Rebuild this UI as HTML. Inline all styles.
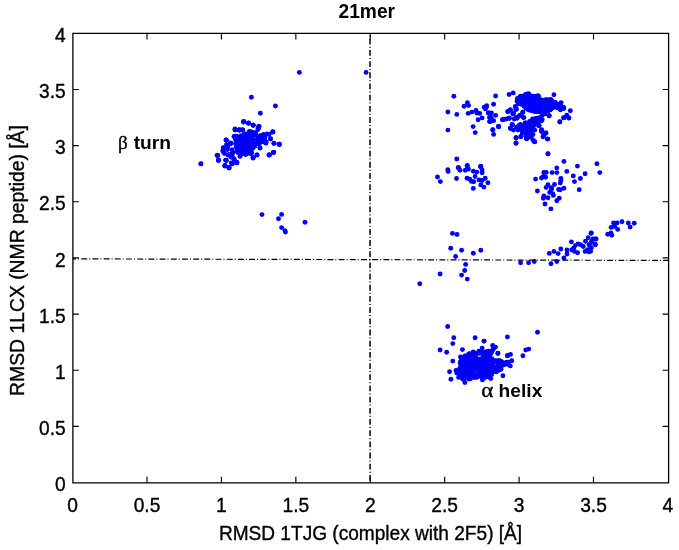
<!DOCTYPE html><html><head><meta charset="utf-8"><title>21mer</title><style>
html,body{margin:0;padding:0;background:#fff;width:679px;height:550px;overflow:hidden}
svg{display:block;filter:blur(0.35px)}
text{font-family:"Liberation Sans",Arial,sans-serif;font-size:19px;fill:#000;stroke:#000;stroke-width:0.35px}
.b{font-weight:bold;stroke-width:0}
.g{font-family:"Liberation Serif","DejaVu Serif",serif;font-weight:normal}
</style></head><body>
<svg width="679" height="550" viewBox="0 0 679 550">
<rect width="679" height="550" fill="#fff"/>
<g fill="#0000fc">
<circle cx="239.0" cy="151.0" r="2.45"/>
<circle cx="258.2" cy="136.8" r="2.45"/>
<circle cx="250.0" cy="141.5" r="2.45"/>
<circle cx="260.4" cy="141.1" r="2.45"/>
<circle cx="248.5" cy="148.0" r="2.45"/>
<circle cx="241.9" cy="153.4" r="2.45"/>
<circle cx="235.6" cy="143.7" r="2.45"/>
<circle cx="263.6" cy="139.9" r="2.45"/>
<circle cx="241.5" cy="140.8" r="2.45"/>
<circle cx="248.3" cy="142.6" r="2.45"/>
<circle cx="242.0" cy="136.3" r="2.45"/>
<circle cx="241.6" cy="141.7" r="2.45"/>
<circle cx="254.5" cy="135.2" r="2.45"/>
<circle cx="238.6" cy="138.7" r="2.45"/>
<circle cx="263.5" cy="140.8" r="2.45"/>
<circle cx="244.1" cy="144.8" r="2.45"/>
<circle cx="250.3" cy="144.8" r="2.45"/>
<circle cx="235.9" cy="136.5" r="2.45"/>
<circle cx="259.3" cy="140.7" r="2.45"/>
<circle cx="240.2" cy="143.9" r="2.45"/>
<circle cx="246.3" cy="141.2" r="2.45"/>
<circle cx="250.4" cy="149.4" r="2.45"/>
<circle cx="250.8" cy="140.1" r="2.45"/>
<circle cx="249.9" cy="131.4" r="2.45"/>
<circle cx="236.2" cy="147.6" r="2.45"/>
<circle cx="246.9" cy="134.8" r="2.45"/>
<circle cx="258.5" cy="143.7" r="2.45"/>
<circle cx="261.2" cy="136.3" r="2.45"/>
<circle cx="250.6" cy="153.6" r="2.45"/>
<circle cx="252.6" cy="141.7" r="2.45"/>
<circle cx="243.1" cy="143.9" r="2.45"/>
<circle cx="252.0" cy="140.9" r="2.45"/>
<circle cx="252.3" cy="135.5" r="2.45"/>
<circle cx="250.3" cy="142.3" r="2.45"/>
<circle cx="245.8" cy="139.0" r="2.45"/>
<circle cx="251.3" cy="145.7" r="2.45"/>
<circle cx="253.6" cy="141.7" r="2.45"/>
<circle cx="235.7" cy="136.2" r="2.45"/>
<circle cx="240.3" cy="144.7" r="2.45"/>
<circle cx="242.7" cy="150.9" r="2.45"/>
<circle cx="255.5" cy="132.7" r="2.45"/>
<circle cx="258.0" cy="136.7" r="2.45"/>
<circle cx="238.2" cy="145.7" r="2.45"/>
<circle cx="239.7" cy="143.4" r="2.45"/>
<circle cx="240.0" cy="137.3" r="2.45"/>
<circle cx="256.6" cy="141.6" r="2.45"/>
<circle cx="244.7" cy="142.1" r="2.45"/>
<circle cx="235.6" cy="140.0" r="2.45"/>
<circle cx="247.7" cy="135.2" r="2.45"/>
<circle cx="238.2" cy="152.3" r="2.45"/>
<circle cx="250.5" cy="135.7" r="2.45"/>
<circle cx="239.3" cy="148.0" r="2.45"/>
<circle cx="239.8" cy="147.6" r="2.45"/>
<circle cx="255.6" cy="143.8" r="2.45"/>
<circle cx="241.6" cy="154.1" r="2.45"/>
<circle cx="259.3" cy="143.1" r="2.45"/>
<circle cx="241.7" cy="146.3" r="2.45"/>
<circle cx="247.0" cy="144.5" r="2.45"/>
<circle cx="244.7" cy="145.8" r="2.45"/>
<circle cx="236.7" cy="137.9" r="2.45"/>
<circle cx="244.2" cy="151.3" r="2.45"/>
<circle cx="244.4" cy="153.2" r="2.45"/>
<circle cx="257.6" cy="140.7" r="2.45"/>
<circle cx="252.3" cy="134.8" r="2.45"/>
<circle cx="256.4" cy="142.9" r="2.45"/>
<circle cx="246.4" cy="139.0" r="2.45"/>
<circle cx="241.2" cy="146.9" r="2.45"/>
<circle cx="248.1" cy="135.4" r="2.45"/>
<circle cx="238.1" cy="146.7" r="2.45"/>
<circle cx="243.9" cy="142.7" r="2.45"/>
<circle cx="244.8" cy="151.6" r="2.45"/>
<circle cx="241.0" cy="138.6" r="2.45"/>
<circle cx="245.2" cy="135.8" r="2.45"/>
<circle cx="263.4" cy="139.0" r="2.45"/>
<circle cx="242.0" cy="148.1" r="2.45"/>
<circle cx="262.8" cy="135.8" r="2.45"/>
<circle cx="260.6" cy="139.5" r="2.45"/>
<circle cx="245.3" cy="137.7" r="2.45"/>
<circle cx="239.0" cy="143.9" r="2.45"/>
<circle cx="237.1" cy="151.5" r="2.45"/>
<circle cx="245.3" cy="145.5" r="2.45"/>
<circle cx="258.8" cy="139.8" r="2.45"/>
<circle cx="252.3" cy="136.1" r="2.45"/>
<circle cx="237.4" cy="137.1" r="2.45"/>
<circle cx="263.2" cy="141.7" r="2.45"/>
<circle cx="243.3" cy="149.6" r="2.45"/>
<circle cx="255.4" cy="132.9" r="2.45"/>
<circle cx="238.4" cy="151.9" r="2.45"/>
<circle cx="236.1" cy="136.5" r="2.45"/>
<circle cx="242.3" cy="148.6" r="2.45"/>
<circle cx="238.0" cy="152.6" r="2.45"/>
<circle cx="246.4" cy="154.0" r="2.45"/>
<circle cx="262.7" cy="137.8" r="2.45"/>
<circle cx="242.6" cy="142.2" r="2.45"/>
<circle cx="237.9" cy="146.4" r="2.45"/>
<circle cx="264.9" cy="137.8" r="2.45"/>
<circle cx="253.1" cy="141.5" r="2.45"/>
<circle cx="241.4" cy="145.5" r="2.45"/>
<circle cx="242.8" cy="143.7" r="2.45"/>
<circle cx="244.3" cy="136.6" r="2.45"/>
<circle cx="237.4" cy="137.5" r="2.45"/>
<circle cx="254.8" cy="146.1" r="2.45"/>
<circle cx="263.7" cy="140.1" r="2.45"/>
<circle cx="244.3" cy="138.6" r="2.45"/>
<circle cx="244.6" cy="151.0" r="2.45"/>
<circle cx="262.2" cy="138.0" r="2.45"/>
<circle cx="245.1" cy="143.8" r="2.45"/>
<circle cx="252.6" cy="145.0" r="2.45"/>
<circle cx="251.7" cy="132.4" r="2.45"/>
<circle cx="237.2" cy="146.0" r="2.45"/>
<circle cx="243.8" cy="149.7" r="2.45"/>
<circle cx="250.0" cy="151.4" r="2.45"/>
<circle cx="239.6" cy="142.7" r="2.45"/>
<circle cx="260.0" cy="138.4" r="2.45"/>
<circle cx="238.1" cy="143.1" r="2.45"/>
<circle cx="263.0" cy="137.8" r="2.45"/>
<circle cx="244.5" cy="152.4" r="2.45"/>
<circle cx="256.0" cy="135.0" r="2.45"/>
<circle cx="248.1" cy="134.5" r="2.45"/>
<circle cx="251.7" cy="143.7" r="2.45"/>
<circle cx="260.9" cy="141.6" r="2.45"/>
<circle cx="247.0" cy="138.8" r="2.45"/>
<circle cx="254.7" cy="140.7" r="2.45"/>
<circle cx="252.3" cy="132.2" r="2.45"/>
<circle cx="245.7" cy="134.0" r="2.45"/>
<circle cx="238.7" cy="136.9" r="2.45"/>
<circle cx="260.2" cy="140.3" r="2.45"/>
<circle cx="247.1" cy="145.4" r="2.45"/>
<circle cx="251.0" cy="142.7" r="2.45"/>
<circle cx="254.7" cy="141.2" r="2.45"/>
<circle cx="242.2" cy="142.6" r="2.45"/>
<circle cx="249.5" cy="136.1" r="2.45"/>
<circle cx="247.5" cy="144.2" r="2.45"/>
<circle cx="243.3" cy="146.2" r="2.45"/>
<circle cx="250.5" cy="151.8" r="2.45"/>
<circle cx="239.7" cy="149.1" r="2.45"/>
<circle cx="261.9" cy="138.2" r="2.45"/>
<circle cx="246.2" cy="147.5" r="2.45"/>
<circle cx="240.3" cy="136.7" r="2.45"/>
<circle cx="241.5" cy="144.4" r="2.45"/>
<circle cx="245.5" cy="143.1" r="2.45"/>
<circle cx="239.9" cy="148.2" r="2.45"/>
<circle cx="243.1" cy="152.6" r="2.45"/>
<circle cx="248.5" cy="152.9" r="2.45"/>
<circle cx="264.6" cy="139.9" r="2.45"/>
<circle cx="259.4" cy="141.1" r="2.45"/>
<circle cx="239.9" cy="138.5" r="2.45"/>
<circle cx="238.7" cy="152.5" r="2.45"/>
<circle cx="253.3" cy="140.5" r="2.45"/>
<circle cx="238.5" cy="137.8" r="2.45"/>
<circle cx="242.5" cy="148.7" r="2.45"/>
<circle cx="254.1" cy="145.2" r="2.45"/>
<circle cx="260.4" cy="135.7" r="2.45"/>
<circle cx="243.6" cy="143.7" r="2.45"/>
<circle cx="243.2" cy="144.8" r="2.45"/>
<circle cx="242.5" cy="147.1" r="2.45"/>
<circle cx="249.9" cy="151.2" r="2.45"/>
<circle cx="246.6" cy="137.5" r="2.45"/>
<circle cx="238.2" cy="150.1" r="2.45"/>
<circle cx="238.5" cy="148.6" r="2.45"/>
<circle cx="239.0" cy="142.7" r="2.45"/>
<circle cx="252.4" cy="138.2" r="2.45"/>
<circle cx="250.3" cy="139.3" r="2.45"/>
<circle cx="248.4" cy="141.5" r="2.45"/>
<circle cx="244.2" cy="140.3" r="2.45"/>
<circle cx="249.9" cy="146.3" r="2.45"/>
<circle cx="246.4" cy="135.6" r="2.45"/>
<circle cx="235.0" cy="137.4" r="2.45"/>
<circle cx="260.4" cy="140.5" r="2.45"/>
<circle cx="244.2" cy="134.8" r="2.45"/>
<circle cx="253.8" cy="143.5" r="2.45"/>
<circle cx="246.8" cy="140.9" r="2.45"/>
<circle cx="247.3" cy="151.4" r="2.45"/>
<circle cx="252.8" cy="148.3" r="2.45"/>
<circle cx="249.9" cy="148.6" r="2.45"/>
<circle cx="254.5" cy="146.3" r="2.45"/>
<circle cx="254.1" cy="140.5" r="2.45"/>
<circle cx="254.1" cy="145.9" r="2.45"/>
<circle cx="245.6" cy="137.1" r="2.45"/>
<circle cx="251.5" cy="134.4" r="2.45"/>
<circle cx="260.4" cy="142.3" r="2.45"/>
<circle cx="249.2" cy="131.8" r="2.45"/>
<circle cx="250.5" cy="148.6" r="2.45"/>
<circle cx="247.8" cy="139.2" r="2.45"/>
<circle cx="250.4" cy="153.4" r="2.45"/>
<circle cx="256.0" cy="140.4" r="2.45"/>
<circle cx="241.3" cy="135.7" r="2.45"/>
<circle cx="262.0" cy="137.2" r="2.45"/>
<circle cx="541.2" cy="100.7" r="2.45"/>
<circle cx="540.6" cy="107.8" r="2.45"/>
<circle cx="524.3" cy="106.2" r="2.45"/>
<circle cx="550.3" cy="109.3" r="2.45"/>
<circle cx="529.1" cy="105.3" r="2.45"/>
<circle cx="527.3" cy="104.4" r="2.45"/>
<circle cx="549.9" cy="109.9" r="2.45"/>
<circle cx="545.9" cy="99.7" r="2.45"/>
<circle cx="536.8" cy="108.3" r="2.45"/>
<circle cx="559.8" cy="107.6" r="2.45"/>
<circle cx="533.5" cy="108.1" r="2.45"/>
<circle cx="527.7" cy="107.4" r="2.45"/>
<circle cx="550.5" cy="99.5" r="2.45"/>
<circle cx="521.4" cy="101.2" r="2.45"/>
<circle cx="525.2" cy="94.7" r="2.45"/>
<circle cx="544.7" cy="110.7" r="2.45"/>
<circle cx="526.6" cy="94.3" r="2.45"/>
<circle cx="549.8" cy="109.3" r="2.45"/>
<circle cx="532.6" cy="109.7" r="2.45"/>
<circle cx="520.8" cy="101.3" r="2.45"/>
<circle cx="539.9" cy="100.9" r="2.45"/>
<circle cx="524.3" cy="98.1" r="2.45"/>
<circle cx="555.4" cy="102.5" r="2.45"/>
<circle cx="550.3" cy="100.0" r="2.45"/>
<circle cx="544.6" cy="111.1" r="2.45"/>
<circle cx="531.5" cy="101.0" r="2.45"/>
<circle cx="543.9" cy="111.3" r="2.45"/>
<circle cx="535.3" cy="110.6" r="2.45"/>
<circle cx="519.0" cy="100.9" r="2.45"/>
<circle cx="522.5" cy="102.5" r="2.45"/>
<circle cx="529.3" cy="95.9" r="2.45"/>
<circle cx="546.7" cy="107.9" r="2.45"/>
<circle cx="549.0" cy="109.9" r="2.45"/>
<circle cx="547.9" cy="101.1" r="2.45"/>
<circle cx="544.4" cy="100.3" r="2.45"/>
<circle cx="545.1" cy="104.4" r="2.45"/>
<circle cx="533.1" cy="101.5" r="2.45"/>
<circle cx="536.5" cy="106.4" r="2.45"/>
<circle cx="550.3" cy="107.9" r="2.45"/>
<circle cx="550.6" cy="108.1" r="2.45"/>
<circle cx="555.0" cy="102.6" r="2.45"/>
<circle cx="518.2" cy="103.8" r="2.45"/>
<circle cx="537.4" cy="96.1" r="2.45"/>
<circle cx="535.1" cy="107.2" r="2.45"/>
<circle cx="517.9" cy="101.0" r="2.45"/>
<circle cx="530.8" cy="101.8" r="2.45"/>
<circle cx="528.0" cy="104.3" r="2.45"/>
<circle cx="532.0" cy="100.1" r="2.45"/>
<circle cx="547.4" cy="102.2" r="2.45"/>
<circle cx="563.3" cy="107.5" r="2.45"/>
<circle cx="556.0" cy="107.1" r="2.45"/>
<circle cx="541.8" cy="110.9" r="2.45"/>
<circle cx="523.8" cy="100.7" r="2.45"/>
<circle cx="532.7" cy="104.7" r="2.45"/>
<circle cx="547.3" cy="99.6" r="2.45"/>
<circle cx="530.5" cy="100.4" r="2.45"/>
<circle cx="531.8" cy="108.0" r="2.45"/>
<circle cx="540.2" cy="103.7" r="2.45"/>
<circle cx="531.8" cy="99.9" r="2.45"/>
<circle cx="539.1" cy="111.2" r="2.45"/>
<circle cx="560.2" cy="109.0" r="2.45"/>
<circle cx="522.7" cy="103.7" r="2.45"/>
<circle cx="553.6" cy="107.1" r="2.45"/>
<circle cx="551.8" cy="100.6" r="2.45"/>
<circle cx="561.2" cy="106.0" r="2.45"/>
<circle cx="535.5" cy="102.5" r="2.45"/>
<circle cx="524.3" cy="96.4" r="2.45"/>
<circle cx="549.0" cy="104.4" r="2.45"/>
<circle cx="535.9" cy="107.6" r="2.45"/>
<circle cx="521.4" cy="98.6" r="2.45"/>
<circle cx="546.4" cy="103.7" r="2.45"/>
<circle cx="556.8" cy="106.0" r="2.45"/>
<circle cx="517.3" cy="100.7" r="2.45"/>
<circle cx="556.7" cy="107.3" r="2.45"/>
<circle cx="544.8" cy="110.3" r="2.45"/>
<circle cx="548.5" cy="104.1" r="2.45"/>
<circle cx="561.3" cy="109.0" r="2.45"/>
<circle cx="550.9" cy="109.3" r="2.45"/>
<circle cx="525.9" cy="108.0" r="2.45"/>
<circle cx="553.0" cy="103.5" r="2.45"/>
<circle cx="539.5" cy="101.4" r="2.45"/>
<circle cx="525.3" cy="99.4" r="2.45"/>
<circle cx="522.0" cy="99.4" r="2.45"/>
<circle cx="558.5" cy="108.0" r="2.45"/>
<circle cx="543.5" cy="104.2" r="2.45"/>
<circle cx="541.3" cy="104.0" r="2.45"/>
<circle cx="535.7" cy="105.7" r="2.45"/>
<circle cx="530.9" cy="99.4" r="2.45"/>
<circle cx="540.4" cy="104.9" r="2.45"/>
<circle cx="524.0" cy="105.9" r="2.45"/>
<circle cx="563.7" cy="107.8" r="2.45"/>
<circle cx="543.2" cy="100.7" r="2.45"/>
<circle cx="535.4" cy="111.6" r="2.45"/>
<circle cx="558.9" cy="106.5" r="2.45"/>
<circle cx="538.4" cy="108.9" r="2.45"/>
<circle cx="534.0" cy="108.0" r="2.45"/>
<circle cx="539.2" cy="100.1" r="2.45"/>
<circle cx="538.0" cy="95.8" r="2.45"/>
<circle cx="533.2" cy="101.6" r="2.45"/>
<circle cx="528.7" cy="110.1" r="2.45"/>
<circle cx="540.8" cy="107.8" r="2.45"/>
<circle cx="549.2" cy="101.9" r="2.45"/>
<circle cx="553.3" cy="103.0" r="2.45"/>
<circle cx="550.4" cy="103.1" r="2.45"/>
<circle cx="562.6" cy="107.4" r="2.45"/>
<circle cx="520.6" cy="96.1" r="2.45"/>
<circle cx="517.5" cy="98.5" r="2.45"/>
<circle cx="539.1" cy="111.9" r="2.45"/>
<circle cx="535.3" cy="107.5" r="2.45"/>
<circle cx="542.5" cy="103.9" r="2.45"/>
<circle cx="542.6" cy="101.7" r="2.45"/>
<circle cx="528.9" cy="99.0" r="2.45"/>
<circle cx="539.1" cy="108.9" r="2.45"/>
<circle cx="534.8" cy="106.5" r="2.45"/>
<circle cx="530.3" cy="103.4" r="2.45"/>
<circle cx="534.7" cy="111.0" r="2.45"/>
<circle cx="525.9" cy="103.6" r="2.45"/>
<circle cx="536.1" cy="110.7" r="2.45"/>
<circle cx="539.7" cy="110.8" r="2.45"/>
<circle cx="529.0" cy="104.0" r="2.45"/>
<circle cx="537.3" cy="108.2" r="2.45"/>
<circle cx="529.4" cy="107.2" r="2.45"/>
<circle cx="535.9" cy="96.1" r="2.45"/>
<circle cx="525.6" cy="104.4" r="2.45"/>
<circle cx="541.7" cy="105.3" r="2.45"/>
<circle cx="523.4" cy="101.6" r="2.45"/>
<circle cx="529.6" cy="107.0" r="2.45"/>
<circle cx="529.0" cy="97.7" r="2.45"/>
<circle cx="533.8" cy="102.7" r="2.45"/>
<circle cx="532.4" cy="105.3" r="2.45"/>
<circle cx="549.3" cy="103.9" r="2.45"/>
<circle cx="519.1" cy="99.9" r="2.45"/>
<circle cx="549.2" cy="106.0" r="2.45"/>
<circle cx="531.3" cy="103.1" r="2.45"/>
<circle cx="532.0" cy="96.1" r="2.45"/>
<circle cx="523.0" cy="98.5" r="2.45"/>
<circle cx="520.5" cy="104.0" r="2.45"/>
<circle cx="549.8" cy="104.4" r="2.45"/>
<circle cx="525.8" cy="104.5" r="2.45"/>
<circle cx="530.8" cy="105.5" r="2.45"/>
<circle cx="520.3" cy="97.9" r="2.45"/>
<circle cx="532.5" cy="105.2" r="2.45"/>
<circle cx="532.0" cy="96.3" r="2.45"/>
<circle cx="528.2" cy="108.4" r="2.45"/>
<circle cx="521.2" cy="99.7" r="2.45"/>
<circle cx="529.1" cy="94.5" r="2.45"/>
<circle cx="535.3" cy="111.6" r="2.45"/>
<circle cx="540.8" cy="99.8" r="2.45"/>
<circle cx="554.6" cy="106.0" r="2.45"/>
<circle cx="556.5" cy="105.3" r="2.45"/>
<circle cx="548.6" cy="105.6" r="2.45"/>
<circle cx="541.4" cy="104.5" r="2.45"/>
<circle cx="541.8" cy="101.2" r="2.45"/>
<circle cx="559.1" cy="105.8" r="2.45"/>
<circle cx="526.5" cy="102.0" r="2.45"/>
<circle cx="529.2" cy="103.8" r="2.45"/>
<circle cx="538.8" cy="101.4" r="2.45"/>
<circle cx="521.2" cy="100.8" r="2.45"/>
<circle cx="547.5" cy="104.1" r="2.45"/>
<circle cx="542.2" cy="109.9" r="2.45"/>
<circle cx="550.7" cy="106.8" r="2.45"/>
<circle cx="517.7" cy="99.5" r="2.45"/>
<circle cx="532.3" cy="110.7" r="2.45"/>
<circle cx="534.5" cy="102.1" r="2.45"/>
<circle cx="529.1" cy="106.4" r="2.45"/>
<circle cx="554.4" cy="105.2" r="2.45"/>
<circle cx="560.1" cy="106.0" r="2.45"/>
<circle cx="534.4" cy="104.4" r="2.45"/>
<circle cx="553.4" cy="105.1" r="2.45"/>
<circle cx="536.4" cy="111.6" r="2.45"/>
<circle cx="535.7" cy="105.3" r="2.45"/>
<circle cx="518.8" cy="102.7" r="2.45"/>
<circle cx="521.6" cy="96.3" r="2.45"/>
<circle cx="540.5" cy="100.5" r="2.45"/>
<circle cx="559.6" cy="106.2" r="2.45"/>
<circle cx="528.0" cy="109.2" r="2.45"/>
<circle cx="527.7" cy="104.4" r="2.45"/>
<circle cx="533.3" cy="96.6" r="2.45"/>
<circle cx="531.2" cy="110.6" r="2.45"/>
<circle cx="532.8" cy="106.3" r="2.45"/>
<circle cx="563.7" cy="108.5" r="2.45"/>
<circle cx="518.9" cy="102.0" r="2.45"/>
<circle cx="534.2" cy="99.3" r="2.45"/>
<circle cx="549.6" cy="105.8" r="2.45"/>
<circle cx="548.3" cy="110.8" r="2.45"/>
<circle cx="524.5" cy="106.0" r="2.45"/>
<circle cx="539.5" cy="100.2" r="2.45"/>
<circle cx="534.5" cy="109.7" r="2.45"/>
<circle cx="521.0" cy="100.1" r="2.45"/>
<circle cx="553.7" cy="102.5" r="2.45"/>
<circle cx="538.7" cy="103.1" r="2.45"/>
<circle cx="553.1" cy="107.5" r="2.45"/>
<circle cx="525.5" cy="102.1" r="2.45"/>
<circle cx="542.1" cy="104.6" r="2.45"/>
<circle cx="560.4" cy="109.8" r="2.45"/>
<circle cx="523.4" cy="100.8" r="2.45"/>
<circle cx="519.8" cy="97.1" r="2.45"/>
<circle cx="552.8" cy="106.5" r="2.45"/>
<circle cx="517.2" cy="101.2" r="2.45"/>
<circle cx="546.5" cy="107.8" r="2.45"/>
<circle cx="559.8" cy="104.0" r="2.45"/>
<circle cx="559.5" cy="106.4" r="2.45"/>
<circle cx="532.6" cy="98.2" r="2.45"/>
<circle cx="544.2" cy="103.5" r="2.45"/>
<circle cx="536.6" cy="108.9" r="2.45"/>
<circle cx="560.9" cy="107.6" r="2.45"/>
<circle cx="549.6" cy="106.9" r="2.45"/>
<circle cx="547.4" cy="103.9" r="2.45"/>
<circle cx="528.1" cy="108.6" r="2.45"/>
<circle cx="534.7" cy="104.4" r="2.45"/>
<circle cx="546.8" cy="102.8" r="2.45"/>
<circle cx="531.1" cy="99.0" r="2.45"/>
<circle cx="536.1" cy="105.1" r="2.45"/>
<circle cx="531.4" cy="103.9" r="2.45"/>
<circle cx="537.7" cy="103.3" r="2.45"/>
<circle cx="536.2" cy="96.8" r="2.45"/>
<circle cx="535.1" cy="101.1" r="2.45"/>
<circle cx="533.4" cy="96.5" r="2.45"/>
<circle cx="543.3" cy="109.9" r="2.45"/>
<circle cx="553.5" cy="105.6" r="2.45"/>
<circle cx="551.1" cy="100.1" r="2.45"/>
<circle cx="523.1" cy="98.5" r="2.45"/>
<circle cx="532.9" cy="99.0" r="2.45"/>
<circle cx="538.6" cy="96.5" r="2.45"/>
<circle cx="522.5" cy="98.5" r="2.45"/>
<circle cx="536.7" cy="110.4" r="2.45"/>
<circle cx="543.8" cy="104.3" r="2.45"/>
<circle cx="534.9" cy="97.4" r="2.45"/>
<circle cx="551.8" cy="101.0" r="2.45"/>
<circle cx="548.8" cy="105.0" r="2.45"/>
<circle cx="522.4" cy="104.0" r="2.45"/>
<circle cx="519.8" cy="98.2" r="2.45"/>
<circle cx="534.5" cy="99.1" r="2.45"/>
<circle cx="533.3" cy="109.8" r="2.45"/>
<circle cx="527.0" cy="107.3" r="2.45"/>
<circle cx="532.8" cy="103.9" r="2.45"/>
<circle cx="526.2" cy="102.5" r="2.45"/>
<circle cx="530.1" cy="109.2" r="2.45"/>
<circle cx="544.5" cy="105.5" r="2.45"/>
<circle cx="531.3" cy="109.3" r="2.45"/>
<circle cx="526.2" cy="103.4" r="2.45"/>
<circle cx="550.0" cy="109.4" r="2.45"/>
<circle cx="534.6" cy="111.4" r="2.45"/>
<circle cx="528.4" cy="93.7" r="2.45"/>
<circle cx="522.0" cy="97.5" r="2.45"/>
<circle cx="539.2" cy="105.4" r="2.45"/>
<circle cx="529.0" cy="105.9" r="2.45"/>
<circle cx="540.2" cy="110.1" r="2.45"/>
<circle cx="562.4" cy="108.4" r="2.45"/>
<circle cx="536.3" cy="98.8" r="2.45"/>
<circle cx="522.5" cy="104.4" r="2.45"/>
<circle cx="528.9" cy="137.0" r="2.45"/>
<circle cx="538.2" cy="120.5" r="2.45"/>
<circle cx="526.0" cy="127.4" r="2.45"/>
<circle cx="520.1" cy="128.8" r="2.45"/>
<circle cx="528.5" cy="122.6" r="2.45"/>
<circle cx="526.9" cy="135.2" r="2.45"/>
<circle cx="531.6" cy="126.5" r="2.45"/>
<circle cx="526.1" cy="130.4" r="2.45"/>
<circle cx="530.2" cy="135.6" r="2.45"/>
<circle cx="523.8" cy="126.0" r="2.45"/>
<circle cx="529.2" cy="131.3" r="2.45"/>
<circle cx="530.0" cy="128.3" r="2.45"/>
<circle cx="531.3" cy="135.5" r="2.45"/>
<circle cx="526.6" cy="128.6" r="2.45"/>
<circle cx="519.4" cy="125.1" r="2.45"/>
<circle cx="523.3" cy="128.8" r="2.45"/>
<circle cx="531.3" cy="135.0" r="2.45"/>
<circle cx="529.2" cy="130.1" r="2.45"/>
<circle cx="522.3" cy="128.2" r="2.45"/>
<circle cx="533.9" cy="124.6" r="2.45"/>
<circle cx="536.1" cy="120.1" r="2.45"/>
<circle cx="537.0" cy="121.3" r="2.45"/>
<circle cx="526.5" cy="125.9" r="2.45"/>
<circle cx="534.2" cy="119.2" r="2.45"/>
<circle cx="537.7" cy="119.5" r="2.45"/>
<circle cx="530.2" cy="131.9" r="2.45"/>
<circle cx="530.1" cy="121.1" r="2.45"/>
<circle cx="533.6" cy="123.0" r="2.45"/>
<circle cx="538.9" cy="118.8" r="2.45"/>
<circle cx="521.7" cy="129.6" r="2.45"/>
<circle cx="520.6" cy="124.4" r="2.45"/>
<circle cx="527.7" cy="126.0" r="2.45"/>
<circle cx="525.2" cy="131.6" r="2.45"/>
<circle cx="532.6" cy="124.6" r="2.45"/>
<circle cx="531.1" cy="131.9" r="2.45"/>
<circle cx="533.2" cy="125.5" r="2.45"/>
<circle cx="517.2" cy="127.0" r="2.45"/>
<circle cx="533.0" cy="134.6" r="2.45"/>
<circle cx="529.6" cy="129.6" r="2.45"/>
<circle cx="528.0" cy="128.1" r="2.45"/>
<circle cx="532.5" cy="130.1" r="2.45"/>
<circle cx="527.2" cy="135.2" r="2.45"/>
<circle cx="532.4" cy="129.1" r="2.45"/>
<circle cx="529.6" cy="134.7" r="2.45"/>
<circle cx="530.7" cy="123.8" r="2.45"/>
<circle cx="523.2" cy="130.7" r="2.45"/>
<circle cx="516.5" cy="127.8" r="2.45"/>
<circle cx="537.8" cy="123.3" r="2.45"/>
<circle cx="526.5" cy="132.6" r="2.45"/>
<circle cx="531.1" cy="126.3" r="2.45"/>
<circle cx="526.4" cy="131.4" r="2.45"/>
<circle cx="534.1" cy="124.7" r="2.45"/>
<circle cx="530.2" cy="134.3" r="2.45"/>
<circle cx="537.3" cy="122.8" r="2.45"/>
<circle cx="533.0" cy="122.3" r="2.45"/>
<circle cx="529.8" cy="125.9" r="2.45"/>
<circle cx="522.8" cy="127.0" r="2.45"/>
<circle cx="528.6" cy="127.8" r="2.45"/>
<circle cx="537.2" cy="120.1" r="2.45"/>
<circle cx="530.7" cy="130.9" r="2.45"/>
<circle cx="531.2" cy="123.5" r="2.45"/>
<circle cx="525.3" cy="122.8" r="2.45"/>
<circle cx="523.1" cy="128.6" r="2.45"/>
<circle cx="524.7" cy="129.7" r="2.45"/>
<circle cx="523.4" cy="130.7" r="2.45"/>
<circle cx="530.1" cy="124.5" r="2.45"/>
<circle cx="485.5" cy="356.4" r="2.45"/>
<circle cx="460.8" cy="363.5" r="2.45"/>
<circle cx="483.0" cy="375.8" r="2.45"/>
<circle cx="496.2" cy="371.9" r="2.45"/>
<circle cx="476.1" cy="354.9" r="2.45"/>
<circle cx="461.6" cy="364.2" r="2.45"/>
<circle cx="483.5" cy="351.7" r="2.45"/>
<circle cx="459.5" cy="371.3" r="2.45"/>
<circle cx="466.9" cy="357.1" r="2.45"/>
<circle cx="485.6" cy="355.6" r="2.45"/>
<circle cx="468.7" cy="354.3" r="2.45"/>
<circle cx="485.9" cy="362.2" r="2.45"/>
<circle cx="473.9" cy="360.7" r="2.45"/>
<circle cx="490.4" cy="372.2" r="2.45"/>
<circle cx="464.0" cy="374.6" r="2.45"/>
<circle cx="471.5" cy="358.7" r="2.45"/>
<circle cx="487.7" cy="361.9" r="2.45"/>
<circle cx="498.6" cy="369.1" r="2.45"/>
<circle cx="467.9" cy="356.8" r="2.45"/>
<circle cx="469.6" cy="361.2" r="2.45"/>
<circle cx="469.6" cy="353.8" r="2.45"/>
<circle cx="474.9" cy="362.2" r="2.45"/>
<circle cx="489.1" cy="375.6" r="2.45"/>
<circle cx="476.8" cy="361.3" r="2.45"/>
<circle cx="469.2" cy="374.5" r="2.45"/>
<circle cx="488.5" cy="351.1" r="2.45"/>
<circle cx="460.0" cy="373.4" r="2.45"/>
<circle cx="480.6" cy="358.9" r="2.45"/>
<circle cx="477.3" cy="362.8" r="2.45"/>
<circle cx="465.2" cy="365.9" r="2.45"/>
<circle cx="464.2" cy="362.3" r="2.45"/>
<circle cx="489.7" cy="351.8" r="2.45"/>
<circle cx="460.4" cy="367.4" r="2.45"/>
<circle cx="468.8" cy="368.5" r="2.45"/>
<circle cx="465.3" cy="375.3" r="2.45"/>
<circle cx="472.7" cy="361.4" r="2.45"/>
<circle cx="485.6" cy="376.3" r="2.45"/>
<circle cx="492.8" cy="349.7" r="2.45"/>
<circle cx="466.2" cy="364.9" r="2.45"/>
<circle cx="466.4" cy="359.0" r="2.45"/>
<circle cx="507.6" cy="364.0" r="2.45"/>
<circle cx="498.0" cy="367.9" r="2.45"/>
<circle cx="491.8" cy="358.6" r="2.45"/>
<circle cx="462.6" cy="378.3" r="2.45"/>
<circle cx="467.4" cy="355.5" r="2.45"/>
<circle cx="477.7" cy="359.2" r="2.45"/>
<circle cx="475.9" cy="376.4" r="2.45"/>
<circle cx="472.8" cy="364.1" r="2.45"/>
<circle cx="479.3" cy="375.8" r="2.45"/>
<circle cx="487.2" cy="362.9" r="2.45"/>
<circle cx="483.6" cy="359.0" r="2.45"/>
<circle cx="467.1" cy="372.3" r="2.45"/>
<circle cx="464.9" cy="359.3" r="2.45"/>
<circle cx="488.8" cy="369.5" r="2.45"/>
<circle cx="490.6" cy="353.8" r="2.45"/>
<circle cx="474.5" cy="366.2" r="2.45"/>
<circle cx="501.0" cy="369.3" r="2.45"/>
<circle cx="473.1" cy="363.1" r="2.45"/>
<circle cx="475.8" cy="365.7" r="2.45"/>
<circle cx="473.2" cy="371.6" r="2.45"/>
<circle cx="488.5" cy="376.4" r="2.45"/>
<circle cx="486.8" cy="363.1" r="2.45"/>
<circle cx="459.5" cy="368.9" r="2.45"/>
<circle cx="465.8" cy="358.1" r="2.45"/>
<circle cx="472.9" cy="374.6" r="2.45"/>
<circle cx="469.7" cy="357.4" r="2.45"/>
<circle cx="482.2" cy="378.4" r="2.45"/>
<circle cx="471.9" cy="368.1" r="2.45"/>
<circle cx="475.2" cy="368.7" r="2.45"/>
<circle cx="486.4" cy="366.2" r="2.45"/>
<circle cx="488.7" cy="369.4" r="2.45"/>
<circle cx="473.4" cy="358.9" r="2.45"/>
<circle cx="477.4" cy="364.5" r="2.45"/>
<circle cx="486.5" cy="375.9" r="2.45"/>
<circle cx="477.3" cy="362.1" r="2.45"/>
<circle cx="469.2" cy="371.2" r="2.45"/>
<circle cx="469.4" cy="371.6" r="2.45"/>
<circle cx="486.6" cy="370.2" r="2.45"/>
<circle cx="486.3" cy="363.6" r="2.45"/>
<circle cx="486.2" cy="371.6" r="2.45"/>
<circle cx="465.0" cy="366.6" r="2.45"/>
<circle cx="458.9" cy="371.1" r="2.45"/>
<circle cx="500.1" cy="361.7" r="2.45"/>
<circle cx="492.9" cy="369.0" r="2.45"/>
<circle cx="464.8" cy="361.8" r="2.45"/>
<circle cx="465.4" cy="363.4" r="2.45"/>
<circle cx="491.2" cy="364.0" r="2.45"/>
<circle cx="465.8" cy="377.1" r="2.45"/>
<circle cx="489.2" cy="357.5" r="2.45"/>
<circle cx="485.8" cy="361.4" r="2.45"/>
<circle cx="480.7" cy="365.4" r="2.45"/>
<circle cx="465.2" cy="367.5" r="2.45"/>
<circle cx="476.5" cy="368.8" r="2.45"/>
<circle cx="495.5" cy="367.6" r="2.45"/>
<circle cx="479.7" cy="374.0" r="2.45"/>
<circle cx="479.8" cy="374.7" r="2.45"/>
<circle cx="459.1" cy="371.0" r="2.45"/>
<circle cx="461.4" cy="360.1" r="2.45"/>
<circle cx="479.9" cy="353.4" r="2.45"/>
<circle cx="480.2" cy="375.2" r="2.45"/>
<circle cx="508.3" cy="362.1" r="2.45"/>
<circle cx="477.0" cy="377.2" r="2.45"/>
<circle cx="488.1" cy="353.3" r="2.45"/>
<circle cx="497.7" cy="365.6" r="2.45"/>
<circle cx="501.6" cy="361.8" r="2.45"/>
<circle cx="505.9" cy="362.6" r="2.45"/>
<circle cx="483.3" cy="352.8" r="2.45"/>
<circle cx="485.1" cy="361.4" r="2.45"/>
<circle cx="481.7" cy="352.3" r="2.45"/>
<circle cx="464.0" cy="379.1" r="2.45"/>
<circle cx="488.8" cy="354.8" r="2.45"/>
<circle cx="480.4" cy="376.0" r="2.45"/>
<circle cx="476.2" cy="357.9" r="2.45"/>
<circle cx="482.2" cy="361.9" r="2.45"/>
<circle cx="487.2" cy="357.6" r="2.45"/>
<circle cx="482.3" cy="362.0" r="2.45"/>
<circle cx="480.7" cy="365.0" r="2.45"/>
<circle cx="484.8" cy="357.7" r="2.45"/>
<circle cx="486.1" cy="368.1" r="2.45"/>
<circle cx="487.8" cy="362.5" r="2.45"/>
<circle cx="482.1" cy="360.3" r="2.45"/>
<circle cx="484.8" cy="354.5" r="2.45"/>
<circle cx="469.1" cy="354.0" r="2.45"/>
<circle cx="488.0" cy="355.4" r="2.45"/>
<circle cx="475.5" cy="366.8" r="2.45"/>
<circle cx="491.5" cy="360.8" r="2.45"/>
<circle cx="471.6" cy="354.8" r="2.45"/>
<circle cx="477.4" cy="370.2" r="2.45"/>
<circle cx="477.0" cy="376.8" r="2.45"/>
<circle cx="488.9" cy="360.0" r="2.45"/>
<circle cx="479.4" cy="373.8" r="2.45"/>
<circle cx="461.2" cy="360.7" r="2.45"/>
<circle cx="464.4" cy="364.8" r="2.45"/>
<circle cx="479.5" cy="365.1" r="2.45"/>
<circle cx="490.3" cy="370.3" r="2.45"/>
<circle cx="487.4" cy="351.7" r="2.45"/>
<circle cx="463.3" cy="358.3" r="2.45"/>
<circle cx="498.6" cy="370.3" r="2.45"/>
<circle cx="475.3" cy="353.1" r="2.45"/>
<circle cx="468.7" cy="363.6" r="2.45"/>
<circle cx="482.3" cy="377.5" r="2.45"/>
<circle cx="461.0" cy="364.8" r="2.45"/>
<circle cx="486.4" cy="352.1" r="2.45"/>
<circle cx="484.5" cy="376.3" r="2.45"/>
<circle cx="493.5" cy="348.8" r="2.45"/>
<circle cx="484.1" cy="368.7" r="2.45"/>
<circle cx="491.8" cy="352.1" r="2.45"/>
<circle cx="476.0" cy="358.8" r="2.45"/>
<circle cx="496.3" cy="360.8" r="2.45"/>
<circle cx="475.8" cy="365.3" r="2.45"/>
<circle cx="492.0" cy="362.3" r="2.45"/>
<circle cx="489.1" cy="365.9" r="2.45"/>
<circle cx="459.1" cy="374.0" r="2.45"/>
<circle cx="479.2" cy="373.0" r="2.45"/>
<circle cx="478.4" cy="375.4" r="2.45"/>
<circle cx="493.3" cy="369.0" r="2.45"/>
<circle cx="480.5" cy="369.9" r="2.45"/>
<circle cx="484.1" cy="366.5" r="2.45"/>
<circle cx="474.8" cy="374.8" r="2.45"/>
<circle cx="469.3" cy="368.3" r="2.45"/>
<circle cx="479.5" cy="352.3" r="2.45"/>
<circle cx="471.6" cy="362.8" r="2.45"/>
<circle cx="479.2" cy="362.7" r="2.45"/>
<circle cx="485.0" cy="369.4" r="2.45"/>
<circle cx="485.3" cy="360.8" r="2.45"/>
<circle cx="504.9" cy="364.5" r="2.45"/>
<circle cx="481.7" cy="371.3" r="2.45"/>
<circle cx="487.8" cy="375.7" r="2.45"/>
<circle cx="461.8" cy="377.0" r="2.45"/>
<circle cx="462.1" cy="368.7" r="2.45"/>
<circle cx="460.8" cy="364.1" r="2.45"/>
<circle cx="472.6" cy="367.4" r="2.45"/>
<circle cx="486.8" cy="365.7" r="2.45"/>
<circle cx="488.0" cy="356.5" r="2.45"/>
<circle cx="489.3" cy="361.7" r="2.45"/>
<circle cx="481.7" cy="364.8" r="2.45"/>
<circle cx="493.9" cy="362.3" r="2.45"/>
<circle cx="487.5" cy="353.4" r="2.45"/>
<circle cx="483.4" cy="368.9" r="2.45"/>
<circle cx="496.8" cy="369.2" r="2.45"/>
<circle cx="478.3" cy="369.8" r="2.45"/>
<circle cx="488.1" cy="363.0" r="2.45"/>
<circle cx="489.9" cy="357.4" r="2.45"/>
<circle cx="485.1" cy="357.3" r="2.45"/>
<circle cx="480.0" cy="371.2" r="2.45"/>
<circle cx="462.9" cy="379.2" r="2.45"/>
<circle cx="484.9" cy="372.5" r="2.45"/>
<circle cx="470.4" cy="378.8" r="2.45"/>
<circle cx="493.1" cy="365.9" r="2.45"/>
<circle cx="462.2" cy="369.8" r="2.45"/>
<circle cx="488.5" cy="368.2" r="2.45"/>
<circle cx="480.1" cy="367.3" r="2.45"/>
<circle cx="484.5" cy="366.6" r="2.45"/>
<circle cx="472.5" cy="373.0" r="2.45"/>
<circle cx="475.0" cy="369.9" r="2.45"/>
<circle cx="486.3" cy="356.1" r="2.45"/>
<circle cx="463.4" cy="366.3" r="2.45"/>
<circle cx="469.4" cy="375.3" r="2.45"/>
<circle cx="470.3" cy="377.8" r="2.45"/>
<circle cx="471.3" cy="362.9" r="2.45"/>
<circle cx="479.5" cy="373.8" r="2.45"/>
<circle cx="466.1" cy="372.5" r="2.45"/>
<circle cx="500.2" cy="361.4" r="2.45"/>
<circle cx="475.1" cy="377.1" r="2.45"/>
<circle cx="468.4" cy="378.1" r="2.45"/>
<circle cx="475.7" cy="375.7" r="2.45"/>
<circle cx="473.4" cy="354.5" r="2.45"/>
<circle cx="469.9" cy="369.9" r="2.45"/>
<circle cx="508.6" cy="364.4" r="2.45"/>
<circle cx="461.9" cy="369.7" r="2.45"/>
<circle cx="497.7" cy="370.3" r="2.45"/>
<circle cx="498.9" cy="369.9" r="2.45"/>
<circle cx="497.2" cy="362.3" r="2.45"/>
<circle cx="479.5" cy="364.2" r="2.45"/>
<circle cx="486.9" cy="353.2" r="2.45"/>
<circle cx="475.3" cy="368.4" r="2.45"/>
<circle cx="488.0" cy="376.6" r="2.45"/>
<circle cx="479.3" cy="365.5" r="2.45"/>
<circle cx="478.7" cy="372.0" r="2.45"/>
<circle cx="471.8" cy="367.5" r="2.45"/>
<circle cx="490.3" cy="354.0" r="2.45"/>
<circle cx="470.7" cy="366.8" r="2.45"/>
<circle cx="470.3" cy="374.5" r="2.45"/>
<circle cx="461.9" cy="372.9" r="2.45"/>
<circle cx="464.4" cy="370.7" r="2.45"/>
<circle cx="497.4" cy="362.2" r="2.45"/>
<circle cx="499.1" cy="360.7" r="2.45"/>
<circle cx="487.3" cy="351.7" r="2.45"/>
<circle cx="482.5" cy="374.8" r="2.45"/>
<circle cx="499.1" cy="360.8" r="2.45"/>
<circle cx="460.7" cy="369.4" r="2.45"/>
<circle cx="488.8" cy="358.8" r="2.45"/>
<circle cx="472.6" cy="364.9" r="2.45"/>
<circle cx="489.4" cy="375.1" r="2.45"/>
<circle cx="489.7" cy="376.0" r="2.45"/>
<circle cx="469.5" cy="367.1" r="2.45"/>
<circle cx="473.4" cy="357.3" r="2.45"/>
<circle cx="464.8" cy="355.9" r="2.45"/>
<circle cx="485.7" cy="377.2" r="2.45"/>
<circle cx="473.1" cy="377.0" r="2.45"/>
<circle cx="467.7" cy="373.2" r="2.45"/>
<circle cx="467.9" cy="368.2" r="2.45"/>
<circle cx="483.5" cy="373.3" r="2.45"/>
<circle cx="484.2" cy="370.7" r="2.45"/>
<circle cx="507.1" cy="362.4" r="2.45"/>
<circle cx="485.1" cy="353.7" r="2.45"/>
<circle cx="469.2" cy="354.4" r="2.45"/>
<circle cx="488.6" cy="377.0" r="2.45"/>
<circle cx="470.3" cy="358.8" r="2.45"/>
<circle cx="456.7" cy="372.9" r="2.45"/>
<circle cx="460.3" cy="362.2" r="2.45"/>
<circle cx="472.4" cy="355.5" r="2.45"/>
<circle cx="466.6" cy="377.0" r="2.45"/>
<circle cx="489.5" cy="369.8" r="2.45"/>
<circle cx="468.3" cy="362.9" r="2.45"/>
<circle cx="485.0" cy="353.8" r="2.45"/>
<circle cx="470.0" cy="365.1" r="2.45"/>
<circle cx="502.9" cy="364.7" r="2.45"/>
<circle cx="484.7" cy="356.5" r="2.45"/>
<circle cx="465.8" cy="363.1" r="2.45"/>
<circle cx="477.2" cy="376.8" r="2.45"/>
<circle cx="467.9" cy="360.4" r="2.45"/>
<circle cx="487.9" cy="374.5" r="2.45"/>
<circle cx="478.1" cy="360.1" r="2.45"/>
<circle cx="466.6" cy="370.4" r="2.45"/>
<circle cx="466.4" cy="364.4" r="2.45"/>
<circle cx="484.7" cy="352.7" r="2.45"/>
<circle cx="460.9" cy="363.1" r="2.45"/>
<circle cx="459.0" cy="374.8" r="2.45"/>
<circle cx="481.6" cy="353.1" r="2.45"/>
<circle cx="500.0" cy="365.9" r="2.45"/>
<circle cx="474.2" cy="362.9" r="2.45"/>
<circle cx="483.6" cy="359.4" r="2.45"/>
<circle cx="499.9" cy="366.4" r="2.45"/>
<circle cx="501.4" cy="361.9" r="2.45"/>
<circle cx="476.3" cy="367.7" r="2.45"/>
<circle cx="461.8" cy="369.8" r="2.45"/>
<circle cx="488.2" cy="373.7" r="2.45"/>
<circle cx="489.6" cy="372.3" r="2.45"/>
<circle cx="506.7" cy="362.2" r="2.45"/>
<circle cx="483.5" cy="376.4" r="2.45"/>
<circle cx="487.7" cy="372.4" r="2.45"/>
<circle cx="465.1" cy="369.8" r="2.45"/>
<circle cx="494.5" cy="371.2" r="2.45"/>
<circle cx="482.3" cy="359.9" r="2.45"/>
<circle cx="460.7" cy="367.8" r="2.45"/>
<circle cx="476.1" cy="368.2" r="2.45"/>
<circle cx="497.7" cy="362.2" r="2.45"/>
<circle cx="499.4" cy="362.8" r="2.45"/>
<circle cx="491.7" cy="374.6" r="2.45"/>
<circle cx="486.3" cy="365.8" r="2.45"/>
<circle cx="472.8" cy="365.0" r="2.45"/>
<circle cx="489.2" cy="369.6" r="2.45"/>
<circle cx="468.9" cy="379.0" r="2.45"/>
<circle cx="474.7" cy="375.0" r="2.45"/>
<circle cx="483.6" cy="360.3" r="2.45"/>
<circle cx="477.3" cy="353.1" r="2.45"/>
<circle cx="489.3" cy="352.7" r="2.45"/>
<circle cx="501.0" cy="367.2" r="2.45"/>
<circle cx="494.4" cy="360.8" r="2.45"/>
<circle cx="483.5" cy="356.3" r="2.45"/>
<circle cx="474.2" cy="377.6" r="2.45"/>
<circle cx="460.4" cy="374.5" r="2.45"/>
<circle cx="479.2" cy="374.7" r="2.45"/>
<circle cx="251.4" cy="97.3" r="2.45"/>
<circle cx="275.4" cy="106.0" r="2.45"/>
<circle cx="260.4" cy="113.2" r="2.45"/>
<circle cx="243.7" cy="121.8" r="2.45"/>
<circle cx="248.6" cy="123.1" r="2.45"/>
<circle cx="253.0" cy="125.1" r="2.45"/>
<circle cx="258.7" cy="126.7" r="2.45"/>
<circle cx="235.0" cy="128.9" r="2.45"/>
<circle cx="239.1" cy="130.0" r="2.45"/>
<circle cx="242.4" cy="130.0" r="2.45"/>
<circle cx="272.7" cy="132.1" r="2.45"/>
<circle cx="279.2" cy="144.2" r="2.45"/>
<circle cx="200.8" cy="163.9" r="2.45"/>
<circle cx="217.8" cy="155.4" r="2.45"/>
<circle cx="218.6" cy="160.3" r="2.45"/>
<circle cx="224.7" cy="165.7" r="2.45"/>
<circle cx="229.3" cy="168.1" r="2.45"/>
<circle cx="226.3" cy="140.3" r="2.45"/>
<circle cx="269.4" cy="155.0" r="2.45"/>
<circle cx="273.8" cy="152.1" r="2.45"/>
<circle cx="253.0" cy="157.8" r="2.45"/>
<circle cx="236.6" cy="162.7" r="2.45"/>
<circle cx="232.2" cy="163.9" r="2.45"/>
<circle cx="226.3" cy="160.6" r="2.45"/>
<circle cx="201.0" cy="163.8" r="2.45"/>
<circle cx="217.2" cy="155.5" r="2.45"/>
<circle cx="218.5" cy="160.5" r="2.45"/>
<circle cx="225.0" cy="166.0" r="2.45"/>
<circle cx="229.0" cy="167.8" r="2.45"/>
<circle cx="226.2" cy="160.2" r="2.45"/>
<circle cx="232.0" cy="163.8" r="2.45"/>
<circle cx="236.8" cy="162.8" r="2.45"/>
<circle cx="226.2" cy="140.0" r="2.45"/>
<circle cx="223.2" cy="148.0" r="2.45"/>
<circle cx="223.5" cy="152.0" r="2.45"/>
<circle cx="228.0" cy="146.0" r="2.45"/>
<circle cx="230.5" cy="143.0" r="2.45"/>
<circle cx="228.0" cy="155.0" r="2.45"/>
<circle cx="231.0" cy="157.0" r="2.45"/>
<circle cx="234.0" cy="159.0" r="2.45"/>
<circle cx="235.0" cy="130.0" r="2.45"/>
<circle cx="239.5" cy="130.0" r="2.45"/>
<circle cx="242.5" cy="130.0" r="2.45"/>
<circle cx="243.5" cy="122.0" r="2.45"/>
<circle cx="234.0" cy="136.5" r="2.45"/>
<circle cx="244.0" cy="121.8" r="2.45"/>
<circle cx="248.5" cy="123.0" r="2.45"/>
<circle cx="253.2" cy="125.2" r="2.45"/>
<circle cx="259.0" cy="126.5" r="2.45"/>
<circle cx="258.0" cy="129.5" r="2.45"/>
<circle cx="272.8" cy="131.8" r="2.45"/>
<circle cx="267.0" cy="134.0" r="2.45"/>
<circle cx="270.5" cy="139.0" r="2.45"/>
<circle cx="274.0" cy="143.2" r="2.45"/>
<circle cx="279.5" cy="144.5" r="2.45"/>
<circle cx="266.0" cy="143.0" r="2.45"/>
<circle cx="260.0" cy="148.0" r="2.45"/>
<circle cx="273.5" cy="152.5" r="2.45"/>
<circle cx="269.0" cy="155.0" r="2.45"/>
<circle cx="257.0" cy="155.0" r="2.45"/>
<circle cx="253.0" cy="158.0" r="2.45"/>
<circle cx="236.5" cy="162.5" r="2.45"/>
<circle cx="239.0" cy="130.0" r="2.45"/>
<circle cx="226.0" cy="140.0" r="2.45"/>
<circle cx="230.3" cy="143.4" r="2.45"/>
<circle cx="223.6" cy="147.7" r="2.45"/>
<circle cx="222.7" cy="151.0" r="2.45"/>
<circle cx="227.4" cy="149.6" r="2.45"/>
<circle cx="229.4" cy="154.4" r="2.45"/>
<circle cx="232.2" cy="156.3" r="2.45"/>
<circle cx="234.1" cy="159.2" r="2.45"/>
<circle cx="237.0" cy="162.5" r="2.45"/>
<circle cx="231.3" cy="163.0" r="2.45"/>
<circle cx="225.5" cy="160.1" r="2.45"/>
<circle cx="217.4" cy="155.3" r="2.45"/>
<circle cx="218.4" cy="160.1" r="2.45"/>
<circle cx="225.1" cy="165.4" r="2.45"/>
<circle cx="228.9" cy="167.8" r="2.45"/>
<circle cx="231.8" cy="149.6" r="2.45"/>
<circle cx="226.5" cy="144.8" r="2.45"/>
<circle cx="224.5" cy="153.5" r="2.45"/>
<circle cx="233.0" cy="152.5" r="2.45"/>
<circle cx="272.9" cy="131.9" r="2.45"/>
<circle cx="270.5" cy="138.6" r="2.45"/>
<circle cx="273.9" cy="143.4" r="2.45"/>
<circle cx="279.1" cy="144.3" r="2.45"/>
<circle cx="260.0" cy="147.7" r="2.45"/>
<circle cx="273.4" cy="152.5" r="2.45"/>
<circle cx="269.1" cy="154.9" r="2.45"/>
<circle cx="257.1" cy="154.9" r="2.45"/>
<circle cx="253.3" cy="157.7" r="2.45"/>
<circle cx="266.2" cy="141.9" r="2.45"/>
<circle cx="262.9" cy="135.2" r="2.45"/>
<circle cx="243.7" cy="121.8" r="2.45"/>
<circle cx="248.5" cy="123.3" r="2.45"/>
<circle cx="253.3" cy="125.2" r="2.45"/>
<circle cx="259.0" cy="126.6" r="2.45"/>
<circle cx="235.1" cy="129.5" r="2.45"/>
<circle cx="239.9" cy="130.0" r="2.45"/>
<circle cx="242.8" cy="130.0" r="2.45"/>
<circle cx="258.2" cy="128.2" r="2.45"/>
<circle cx="263.6" cy="134.5" r="2.45"/>
<circle cx="269.1" cy="134.5" r="2.45"/>
<circle cx="261.8" cy="140.0" r="2.45"/>
<circle cx="265.5" cy="142.7" r="2.45"/>
<circle cx="230.9" cy="143.6" r="2.45"/>
<circle cx="232.7" cy="152.7" r="2.45"/>
<circle cx="240.0" cy="156.4" r="2.45"/>
<circle cx="245.5" cy="154.5" r="2.45"/>
<circle cx="251.8" cy="152.7" r="2.45"/>
<circle cx="299.4" cy="72.4" r="2.45"/>
<circle cx="366.1" cy="72.4" r="2.45"/>
<circle cx="262.0" cy="214.6" r="2.45"/>
<circle cx="281.6" cy="214.4" r="2.45"/>
<circle cx="278.5" cy="218.7" r="2.45"/>
<circle cx="281.6" cy="227.6" r="2.45"/>
<circle cx="284.9" cy="230.6" r="2.45"/>
<circle cx="285.4" cy="232.1" r="2.45"/>
<circle cx="305.0" cy="222.2" r="2.45"/>
<circle cx="453.9" cy="96.2" r="2.45"/>
<circle cx="447.9" cy="112.0" r="2.45"/>
<circle cx="456.8" cy="114.4" r="2.45"/>
<circle cx="447.9" cy="130.1" r="2.45"/>
<circle cx="464.1" cy="106.2" r="2.45"/>
<circle cx="467.4" cy="102.7" r="2.45"/>
<circle cx="468.6" cy="105.6" r="2.45"/>
<circle cx="468.2" cy="113.4" r="2.45"/>
<circle cx="471.9" cy="112.1" r="2.45"/>
<circle cx="476.0" cy="110.5" r="2.45"/>
<circle cx="476.8" cy="113.0" r="2.45"/>
<circle cx="479.7" cy="113.4" r="2.45"/>
<circle cx="478.1" cy="119.8" r="2.45"/>
<circle cx="482.1" cy="117.9" r="2.45"/>
<circle cx="473.1" cy="126.6" r="2.45"/>
<circle cx="475.2" cy="132.6" r="2.45"/>
<circle cx="484.2" cy="107.2" r="2.45"/>
<circle cx="486.6" cy="105.6" r="2.45"/>
<circle cx="485.4" cy="108.9" r="2.45"/>
<circle cx="488.3" cy="113.0" r="2.45"/>
<circle cx="489.5" cy="121.6" r="2.45"/>
<circle cx="489.5" cy="117.5" r="2.45"/>
<circle cx="495.6" cy="96.0" r="2.45"/>
<circle cx="493.6" cy="104.2" r="2.45"/>
<circle cx="486.6" cy="106.8" r="2.45"/>
<circle cx="488.7" cy="113.0" r="2.45"/>
<circle cx="491.5" cy="113.0" r="2.45"/>
<circle cx="495.6" cy="115.4" r="2.45"/>
<circle cx="491.1" cy="117.5" r="2.45"/>
<circle cx="490.3" cy="121.6" r="2.45"/>
<circle cx="493.6" cy="120.7" r="2.45"/>
<circle cx="498.5" cy="126.5" r="2.45"/>
<circle cx="492.8" cy="129.7" r="2.45"/>
<circle cx="509.1" cy="94.5" r="2.45"/>
<circle cx="513.2" cy="92.9" r="2.45"/>
<circle cx="508.3" cy="111.3" r="2.45"/>
<circle cx="510.4" cy="109.7" r="2.45"/>
<circle cx="503.8" cy="119.5" r="2.45"/>
<circle cx="509.5" cy="118.3" r="2.45"/>
<circle cx="513.6" cy="113.4" r="2.45"/>
<circle cx="515.3" cy="106.4" r="2.45"/>
<circle cx="516.5" cy="109.3" r="2.45"/>
<circle cx="516.1" cy="117.5" r="2.45"/>
<circle cx="519.4" cy="115.8" r="2.45"/>
<circle cx="522.6" cy="112.5" r="2.45"/>
<circle cx="523.5" cy="117.5" r="2.45"/>
<circle cx="512.0" cy="124.4" r="2.45"/>
<circle cx="510.4" cy="128.1" r="2.45"/>
<circle cx="553.9" cy="94.8" r="2.45"/>
<circle cx="561.1" cy="102.6" r="2.45"/>
<circle cx="570.3" cy="110.8" r="2.45"/>
<circle cx="566.8" cy="115.3" r="2.45"/>
<circle cx="568.9" cy="118.1" r="2.45"/>
<circle cx="563.6" cy="117.7" r="2.45"/>
<circle cx="559.9" cy="121.8" r="2.45"/>
<circle cx="549.2" cy="115.7" r="2.45"/>
<circle cx="538.6" cy="125.5" r="2.45"/>
<circle cx="541.5" cy="129.6" r="2.45"/>
<circle cx="498.5" cy="126.6" r="2.45"/>
<circle cx="492.8" cy="129.9" r="2.45"/>
<circle cx="493.6" cy="134.4" r="2.45"/>
<circle cx="516.1" cy="137.7" r="2.45"/>
<circle cx="516.1" cy="143.2" r="2.45"/>
<circle cx="521.0" cy="136.5" r="2.45"/>
<circle cx="526.7" cy="138.5" r="2.45"/>
<circle cx="559.8" cy="122.0" r="2.45"/>
<circle cx="563.9" cy="117.9" r="2.45"/>
<circle cx="568.8" cy="117.9" r="2.45"/>
<circle cx="549.1" cy="115.8" r="2.45"/>
<circle cx="541.4" cy="120.7" r="2.45"/>
<circle cx="538.1" cy="124.8" r="2.45"/>
<circle cx="541.8" cy="130.5" r="2.45"/>
<circle cx="545.9" cy="133.0" r="2.45"/>
<circle cx="543.0" cy="136.7" r="2.45"/>
<circle cx="547.9" cy="139.1" r="2.45"/>
<circle cx="534.4" cy="141.6" r="2.45"/>
<circle cx="526.6" cy="138.7" r="2.45"/>
<circle cx="547.9" cy="153.9" r="2.45"/>
<circle cx="507.6" cy="111.7" r="2.45"/>
<circle cx="510.2" cy="110.2" r="2.45"/>
<circle cx="515.7" cy="109.5" r="2.45"/>
<circle cx="512.7" cy="113.9" r="2.45"/>
<circle cx="523.0" cy="112.0" r="2.45"/>
<circle cx="523.8" cy="117.6" r="2.45"/>
<circle cx="520.1" cy="115.4" r="2.45"/>
<circle cx="502.4" cy="119.8" r="2.45"/>
<circle cx="506.1" cy="119.0" r="2.45"/>
<circle cx="509.0" cy="118.3" r="2.45"/>
<circle cx="514.2" cy="119.0" r="2.45"/>
<circle cx="517.1" cy="118.3" r="2.45"/>
<circle cx="498.7" cy="126.8" r="2.45"/>
<circle cx="512.7" cy="124.9" r="2.45"/>
<circle cx="510.5" cy="128.6" r="2.45"/>
<circle cx="513.5" cy="130.1" r="2.45"/>
<circle cx="517.9" cy="130.1" r="2.45"/>
<circle cx="521.6" cy="125.7" r="2.45"/>
<circle cx="526.0" cy="124.2" r="2.45"/>
<circle cx="529.7" cy="122.7" r="2.45"/>
<circle cx="532.6" cy="119.0" r="2.45"/>
<circle cx="536.3" cy="118.3" r="2.45"/>
<circle cx="539.2" cy="117.6" r="2.45"/>
<circle cx="542.2" cy="119.8" r="2.45"/>
<circle cx="537.8" cy="121.3" r="2.45"/>
<circle cx="539.2" cy="125.7" r="2.45"/>
<circle cx="533.3" cy="126.4" r="2.45"/>
<circle cx="528.9" cy="128.6" r="2.45"/>
<circle cx="524.5" cy="130.8" r="2.45"/>
<circle cx="522.3" cy="133.0" r="2.45"/>
<circle cx="527.5" cy="132.3" r="2.45"/>
<circle cx="531.1" cy="131.6" r="2.45"/>
<circle cx="534.8" cy="130.1" r="2.45"/>
<circle cx="520.8" cy="136.7" r="2.45"/>
<circle cx="516.0" cy="137.8" r="2.45"/>
<circle cx="516.0" cy="143.0" r="2.45"/>
<circle cx="526.7" cy="138.2" r="2.45"/>
<circle cx="526.0" cy="136.0" r="2.45"/>
<circle cx="531.1" cy="137.5" r="2.45"/>
<circle cx="533.3" cy="140.4" r="2.45"/>
<circle cx="534.8" cy="141.9" r="2.45"/>
<circle cx="541.4" cy="131.6" r="2.45"/>
<circle cx="543.7" cy="135.2" r="2.45"/>
<circle cx="545.9" cy="133.0" r="2.45"/>
<circle cx="547.3" cy="138.9" r="2.45"/>
<circle cx="542.2" cy="115.4" r="2.45"/>
<circle cx="545.1" cy="113.9" r="2.45"/>
<circle cx="456.8" cy="159.0" r="2.45"/>
<circle cx="458.4" cy="167.6" r="2.45"/>
<circle cx="467.4" cy="165.5" r="2.45"/>
<circle cx="480.5" cy="166.7" r="2.45"/>
<circle cx="447.8" cy="169.6" r="2.45"/>
<circle cx="448.1" cy="171.4" r="2.45"/>
<circle cx="437.5" cy="177.0" r="2.45"/>
<circle cx="440.4" cy="181.6" r="2.45"/>
<circle cx="456.5" cy="178.5" r="2.45"/>
<circle cx="458.3" cy="167.7" r="2.45"/>
<circle cx="460.0" cy="170.3" r="2.45"/>
<circle cx="467.1" cy="165.9" r="2.45"/>
<circle cx="465.3" cy="170.3" r="2.45"/>
<circle cx="468.4" cy="169.0" r="2.45"/>
<circle cx="473.3" cy="171.2" r="2.45"/>
<circle cx="476.8" cy="172.1" r="2.45"/>
<circle cx="480.8" cy="166.3" r="2.45"/>
<circle cx="482.1" cy="169.9" r="2.45"/>
<circle cx="482.1" cy="172.8" r="2.45"/>
<circle cx="475.1" cy="176.5" r="2.45"/>
<circle cx="467.1" cy="178.3" r="2.45"/>
<circle cx="469.8" cy="179.2" r="2.45"/>
<circle cx="471.5" cy="181.4" r="2.45"/>
<circle cx="473.7" cy="181.8" r="2.45"/>
<circle cx="479.0" cy="180.0" r="2.45"/>
<circle cx="482.1" cy="180.5" r="2.45"/>
<circle cx="485.2" cy="178.3" r="2.45"/>
<circle cx="487.9" cy="182.7" r="2.45"/>
<circle cx="480.8" cy="184.9" r="2.45"/>
<circle cx="483.9" cy="187.1" r="2.45"/>
<circle cx="473.3" cy="188.4" r="2.45"/>
<circle cx="548.0" cy="153.8" r="2.45"/>
<circle cx="563.9" cy="161.4" r="2.45"/>
<circle cx="577.4" cy="166.1" r="2.45"/>
<circle cx="596.9" cy="163.8" r="2.45"/>
<circle cx="599.8" cy="172.6" r="2.45"/>
<circle cx="585.1" cy="173.8" r="2.45"/>
<circle cx="580.4" cy="178.5" r="2.45"/>
<circle cx="573.3" cy="175.9" r="2.45"/>
<circle cx="574.5" cy="181.6" r="2.45"/>
<circle cx="579.2" cy="189.7" r="2.45"/>
<circle cx="556.8" cy="167.9" r="2.45"/>
<circle cx="566.8" cy="171.4" r="2.45"/>
<circle cx="552.1" cy="172.6" r="2.45"/>
<circle cx="556.8" cy="172.6" r="2.45"/>
<circle cx="543.9" cy="172.4" r="2.45"/>
<circle cx="546.2" cy="172.4" r="2.45"/>
<circle cx="535.6" cy="179.1" r="2.45"/>
<circle cx="541.5" cy="178.0" r="2.45"/>
<circle cx="545.6" cy="177.3" r="2.45"/>
<circle cx="560.9" cy="178.5" r="2.45"/>
<circle cx="560.3" cy="183.0" r="2.45"/>
<circle cx="554.5" cy="184.4" r="2.45"/>
<circle cx="548.0" cy="184.8" r="2.45"/>
<circle cx="546.2" cy="187.5" r="2.45"/>
<circle cx="551.5" cy="187.7" r="2.45"/>
<circle cx="558.6" cy="189.5" r="2.45"/>
<circle cx="563.9" cy="188.3" r="2.45"/>
<circle cx="537.4" cy="191.0" r="2.45"/>
<circle cx="549.7" cy="192.4" r="2.45"/>
<circle cx="553.3" cy="195.4" r="2.45"/>
<circle cx="543.9" cy="196.0" r="2.45"/>
<circle cx="548.0" cy="197.7" r="2.45"/>
<circle cx="543.3" cy="198.3" r="2.45"/>
<circle cx="559.2" cy="198.3" r="2.45"/>
<circle cx="556.8" cy="200.7" r="2.45"/>
<circle cx="545.0" cy="204.0" r="2.45"/>
<circle cx="550.9" cy="208.9" r="2.45"/>
<circle cx="560.9" cy="180.6" r="2.45"/>
<circle cx="543.3" cy="176.5" r="2.45"/>
<circle cx="551.5" cy="189.2" r="2.45"/>
<circle cx="560.3" cy="189.8" r="2.45"/>
<circle cx="552.7" cy="193.6" r="2.45"/>
<circle cx="613.6" cy="223.0" r="2.45"/>
<circle cx="617.1" cy="223.0" r="2.45"/>
<circle cx="622.0" cy="221.8" r="2.45"/>
<circle cx="628.3" cy="223.0" r="2.45"/>
<circle cx="634.2" cy="223.2" r="2.45"/>
<circle cx="630.1" cy="227.1" r="2.45"/>
<circle cx="611.2" cy="227.4" r="2.45"/>
<circle cx="614.7" cy="226.5" r="2.45"/>
<circle cx="617.7" cy="229.4" r="2.45"/>
<circle cx="607.7" cy="234.2" r="2.45"/>
<circle cx="611.8" cy="235.3" r="2.45"/>
<circle cx="611.0" cy="233.0" r="2.45"/>
<circle cx="591.2" cy="233.0" r="2.45"/>
<circle cx="595.3" cy="238.9" r="2.45"/>
<circle cx="591.8" cy="241.2" r="2.45"/>
<circle cx="595.3" cy="244.8" r="2.45"/>
<circle cx="591.2" cy="247.7" r="2.45"/>
<circle cx="590.6" cy="251.2" r="2.45"/>
<circle cx="591.1" cy="233.3" r="2.45"/>
<circle cx="588.2" cy="237.7" r="2.45"/>
<circle cx="585.5" cy="241.2" r="2.45"/>
<circle cx="593.0" cy="239.0" r="2.45"/>
<circle cx="596.1" cy="239.0" r="2.45"/>
<circle cx="595.2" cy="244.3" r="2.45"/>
<circle cx="591.3" cy="242.5" r="2.45"/>
<circle cx="589.0" cy="244.7" r="2.45"/>
<circle cx="590.8" cy="248.3" r="2.45"/>
<circle cx="587.7" cy="249.6" r="2.45"/>
<circle cx="589.0" cy="251.8" r="2.45"/>
<circle cx="585.1" cy="251.4" r="2.45"/>
<circle cx="583.3" cy="246.5" r="2.45"/>
<circle cx="580.6" cy="244.7" r="2.45"/>
<circle cx="578.0" cy="243.9" r="2.45"/>
<circle cx="575.3" cy="245.6" r="2.45"/>
<circle cx="573.6" cy="248.3" r="2.45"/>
<circle cx="571.8" cy="250.0" r="2.45"/>
<circle cx="574.5" cy="251.4" r="2.45"/>
<circle cx="577.6" cy="252.7" r="2.45"/>
<circle cx="571.4" cy="241.9" r="2.45"/>
<circle cx="567.0" cy="250.0" r="2.45"/>
<circle cx="567.0" cy="254.0" r="2.45"/>
<circle cx="563.9" cy="258.0" r="2.45"/>
<circle cx="560.8" cy="249.0" r="2.45"/>
<circle cx="558.1" cy="253.6" r="2.45"/>
<circle cx="554.0" cy="251.4" r="2.45"/>
<circle cx="549.3" cy="253.4" r="2.45"/>
<circle cx="556.8" cy="261.5" r="2.45"/>
<circle cx="551.0" cy="263.7" r="2.45"/>
<circle cx="520.6" cy="262.8" r="2.45"/>
<circle cx="528.6" cy="262.8" r="2.45"/>
<circle cx="534.3" cy="261.5" r="2.45"/>
<circle cx="452.5" cy="233.4" r="2.45"/>
<circle cx="457.0" cy="234.5" r="2.45"/>
<circle cx="450.7" cy="248.2" r="2.45"/>
<circle cx="461.6" cy="250.2" r="2.45"/>
<circle cx="473.3" cy="253.2" r="2.45"/>
<circle cx="480.8" cy="250.2" r="2.45"/>
<circle cx="455.6" cy="256.5" r="2.45"/>
<circle cx="465.6" cy="264.4" r="2.45"/>
<circle cx="464.7" cy="270.5" r="2.45"/>
<circle cx="461.6" cy="275.1" r="2.45"/>
<circle cx="467.3" cy="279.1" r="2.45"/>
<circle cx="440.1" cy="274.0" r="2.45"/>
<circle cx="419.8" cy="283.7" r="2.45"/>
<circle cx="447.7" cy="326.5" r="2.45"/>
<circle cx="453.8" cy="337.7" r="2.45"/>
<circle cx="452.8" cy="343.6" r="2.45"/>
<circle cx="440.1" cy="350.0" r="2.45"/>
<circle cx="446.7" cy="352.2" r="2.45"/>
<circle cx="475.1" cy="337.7" r="2.45"/>
<circle cx="484.0" cy="341.1" r="2.45"/>
<circle cx="462.4" cy="349.6" r="2.45"/>
<circle cx="452.8" cy="361.1" r="2.45"/>
<circle cx="449.6" cy="371.7" r="2.45"/>
<circle cx="450.9" cy="379.3" r="2.45"/>
<circle cx="456.0" cy="370.4" r="2.45"/>
<circle cx="460.5" cy="357.0" r="2.45"/>
<circle cx="464.9" cy="382.5" r="2.45"/>
<circle cx="458.6" cy="377.4" r="2.45"/>
<circle cx="473.2" cy="351.9" r="2.45"/>
<circle cx="478.9" cy="351.3" r="2.45"/>
<circle cx="482.1" cy="348.1" r="2.45"/>
<circle cx="537.5" cy="332.2" r="2.45"/>
<circle cx="507.4" cy="336.9" r="2.45"/>
<circle cx="484.1" cy="341.1" r="2.45"/>
<circle cx="492.7" cy="345.5" r="2.45"/>
<circle cx="495.5" cy="347.1" r="2.45"/>
<circle cx="525.8" cy="350.0" r="2.45"/>
<circle cx="528.7" cy="349.1" r="2.45"/>
<circle cx="522.9" cy="355.7" r="2.45"/>
<circle cx="497.8" cy="353.2" r="2.45"/>
<circle cx="507.4" cy="355.7" r="2.45"/>
<circle cx="510.5" cy="354.4" r="2.45"/>
<circle cx="511.8" cy="360.8" r="2.45"/>
<circle cx="510.3" cy="365.9" r="2.45"/>
<circle cx="502.9" cy="375.8" r="2.45"/>
<circle cx="490.8" cy="378.6" r="2.45"/>
<circle cx="482.5" cy="379.9" r="2.45"/>
<circle cx="498.0" cy="353.4" r="2.45"/>
<circle cx="507.5" cy="355.8" r="2.45"/>
</g>
<g stroke="#000" fill="none">
<line x1="72.9" y1="258.85" x2="668.6" y2="260.45" stroke-width="1.2" stroke-dasharray="5.9 2.0 1.0 2.29" stroke-dashoffset="2.79"/>
<line x1="370.0" y1="33.4" x2="370.1" y2="482.8" stroke-width="1.5" stroke-dasharray="5.8 2.1 1.0 2.284" stroke-dashoffset="5.78"/>
</g>
<g stroke="#000" stroke-width="1" fill="none">
<path d="M72.9,33.4H668.6V482.8H72.9Z" stroke-width="1.3"/>
<path d="M147.01,482.8v-6M147.01,33.4v6M72.9,426.44h6M668.6,426.44h-6M221.43,482.8v-6M221.43,33.4v6M72.9,370.27h6M668.6,370.27h-6M295.85,482.8v-6M295.85,33.4v6M72.9,314.11h6M668.6,314.11h-6M370.26,482.8v-6M370.26,33.4v6M72.9,257.94h6M668.6,257.94h-6M444.68,482.8v-6M444.68,33.4v6M72.9,201.78h6M668.6,201.78h-6M519.09,482.8v-6M519.09,33.4v6M72.9,145.61h6M668.6,145.61h-6M593.51,482.8v-6M593.51,33.4v6M72.9,89.45h6M668.6,89.45h-6" stroke-width="1.15"/>
</g>
<text transform="translate(72.60,512.00) scale(1.0,1.08)" text-anchor="middle" style="font-size:19.2px">0</text>
<text transform="translate(147.01,512.00) scale(1.0,1.08)" text-anchor="middle" style="font-size:19.2px">0.5</text>
<text transform="translate(221.43,512.00) scale(1.0,1.08)" text-anchor="middle" style="font-size:19.2px">1</text>
<text transform="translate(295.85,512.00) scale(1.0,1.08)" text-anchor="middle" style="font-size:19.2px">1.5</text>
<text transform="translate(370.26,512.00) scale(1.0,1.08)" text-anchor="middle" style="font-size:19.2px">2</text>
<text transform="translate(444.68,512.00) scale(1.0,1.08)" text-anchor="middle" style="font-size:19.2px">2.5</text>
<text transform="translate(519.09,512.00) scale(1.0,1.08)" text-anchor="middle" style="font-size:19.2px">3</text>
<text transform="translate(593.51,512.00) scale(1.0,1.08)" text-anchor="middle" style="font-size:19.2px">3.5</text>
<text transform="translate(667.92,512.00) scale(1.0,1.08)" text-anchor="middle" style="font-size:19.2px">4</text>
<text transform="translate(65.70,491.30) scale(1.0,1.08)" text-anchor="end" style="font-size:19.2px">0</text>
<text transform="translate(65.70,435.13) scale(1.0,1.08)" text-anchor="end" style="font-size:19.2px">0.5</text>
<text transform="translate(65.70,378.97) scale(1.0,1.08)" text-anchor="end" style="font-size:19.2px">1</text>
<text transform="translate(65.70,322.81) scale(1.0,1.08)" text-anchor="end" style="font-size:19.2px">1.5</text>
<text transform="translate(65.70,266.64) scale(1.0,1.08)" text-anchor="end" style="font-size:19.2px">2</text>
<text transform="translate(65.70,210.48) scale(1.0,1.08)" text-anchor="end" style="font-size:19.2px">2.5</text>
<text transform="translate(65.70,154.31) scale(1.0,1.08)" text-anchor="end" style="font-size:19.2px">3</text>
<text transform="translate(65.70,98.15) scale(1.0,1.08)" text-anchor="end" style="font-size:19.2px">3.5</text>
<text transform="translate(65.70,41.98) scale(1.0,1.08)" text-anchor="end" style="font-size:19.2px">4</text>
<text transform="translate(366.80,17.70) scale(1.0,1.05)" text-anchor="middle" class="b" style="font-size:19.2px">21mer</text>
<text transform="translate(370.50,539.90) scale(1.0,1.08)" text-anchor="middle" style="font-size:19.1px">RMSD 1TJG (complex with 2F5) [Å]</text>
<text transform="translate(23.70,260.50) rotate(-90) scale(1.0,1.08)" text-anchor="middle" style="font-size:19.35px">RMSD 1LCX (NMR peptide) [Å]</text>
<text transform="translate(118.00,149.30) scale(1.0,1.0)" class="g" style="font-size:19.2px">β</text>
<text transform="translate(133.70,149.30) scale(1.0,1.0)" class="b" style="font-size:19.2px">turn</text>
<text transform="translate(481.20,396.60) scale(1.2,1.05)" class="g" style="font-size:19.2px">α</text>
<text transform="translate(498.60,396.60) scale(1.0,1.0)" class="b" style="font-size:19.2px">helix</text>
</svg></body></html>
